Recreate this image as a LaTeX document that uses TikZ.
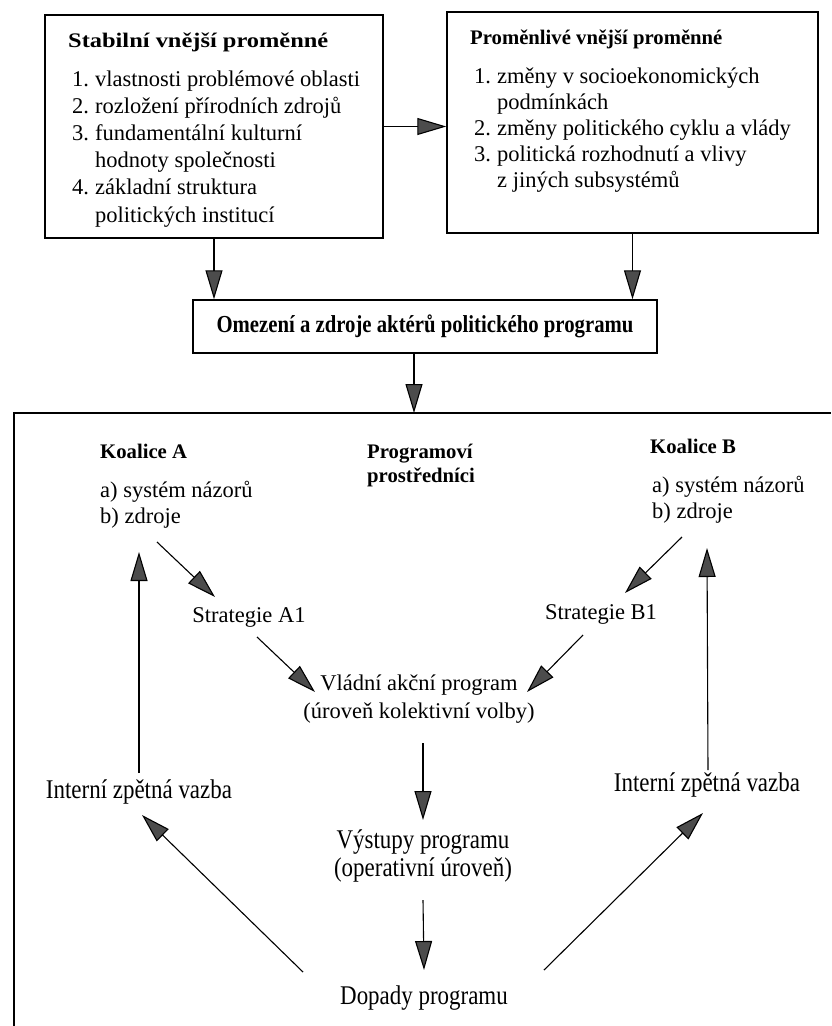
\documentclass[tikz,border=0pt]{standalone}
\usepackage{fontspec}
\setmainfont{Liberation Serif}
\newfontfamily\uzke[FakeStretch=0.85]{Liberation Serif}
\usetikzlibrary{arrows.meta,calc}
\definecolor{sedahrot}{gray}{0.3}
\newcommand{\cislo}[1]{\makebox[23pt][l]{#1}}
\newcommand{\odsad}{\hspace*{27pt}}

\begin{document}
\begin{tikzpicture}[x=1pt,y=-1pt]
\tikzstyle{every node}+=[inner sep=0pt]
\tikzstyle{ramecek}=[draw, line width=1.5pt]
\tikzstyle{text22}=[font=\fontsize{22.5}{27.2}\selectfont]
\tikzstyle{tucne}=[font=\fontsize{20.7}{24}\selectfont\bfseries]
\tikzstyle{uzky}=[font=\uzke\fontsize{27}{28}\selectfont]
\tikzstyle{sipka}=[line width=1.1pt, -{Triangle[length=29pt,width=17pt,fill=sedahrot]}]
\useasboundingbox (0,0) rectangle (831,1026);
\node[ramecek, minimum width=338pt, minimum height=223pt] (stabilni) at (214,126.5) {};
\node[ramecek, minimum width=371pt, minimum height=221pt] (promenlive) at (632.5,122.5) {};
\node[text22, anchor=base west, align=left] (stabtext) at (68,222) {\scalebox{1.18}[1]{\bfseries\fontsize{20.7}{27.2}\selectfont Stabilní vnější proměnné}\\[11.8pt]
\hspace*{4pt}\cislo{1.}vlastnosti problémové oblasti\\
\hspace*{4pt}\cislo{2.}rozložení přírodních zdrojů\\
\hspace*{4pt}\cislo{3.}fundamentální kulturní\\
\odsad hodnoty společnosti\\
\hspace*{4pt}\cislo{4.}základní struktura\\
\odsad politických institucí};
\node[text22, anchor=base west, align=left] (promtext) at (470,187) {{\bfseries\fontsize{20.7}{27.2}\selectfont Proměnlivé vnější proměnné}\\[11.8pt]
\hspace*{4pt}\cislo{1.}změny v socioekonomických\\[-1.4pt]
\odsad podmínkách\\[-1.4pt]
\hspace*{4pt}\cislo{2.}změny politického cyklu a vlády\\[-1.4pt]
\hspace*{4pt}\cislo{3.}politická rozhodnutí a vlivy\\[-1.4pt]
\odsad z jiných subsystémů};
\node[ramecek, minimum width=464pt, minimum height=53pt, font=\uzke\bfseries\fontsize{24.4}{28}\selectfont] (omezeni) at (425,326.5) {Omezení a zdroje aktérů politického programu};
\draw[ramecek] (14,1026) -- (14,413) -- (831,413);
\coordinate (ramecvrch) at (414,413);
\node[tucne, anchor=base west] (koalA) at (100,458) {Koalice A};
\node[text22, anchor=base west, align=left] (koalAtext) at (100,523) {a) systém názorů\\[-1.2pt]b) zdroje};
\node[tucne, anchor=base west, align=left] (prostrednici) at (367,482) {Programoví\\prostředníci};
\node[tucne, anchor=base west] (koalB) at (650,453) {Koalice B};
\node[text22, anchor=base west, align=left] (koalBtext) at (652,518) {a) systém názorů\\[-1.2pt]b) zdroje};
\node[text22, anchor=base] (stratA) at (249,622) {Strategie A1};
\node[text22, anchor=base] (stratB) at (601,619) {Strategie B1};
\node[text22, anchor=base, align=center] (vladni) at (419,718) {Vládní akční program\\(úroveň kolektivní volby)};
\node[uzky, anchor=base] (interniA) at (139,798) {Interní zpětná vazba};
\node[uzky, anchor=base] (interniB) at (707,791) {Interní zpětná vazba};
\node[uzky, anchor=base, align=center] (vystupy) at (423,876) {Výstupy programu\\(operativní úroveň)};
\node[uzky, anchor=base] (dopady) at (424,1004) {Dopady programu};
\draw[sipka] (stabilni.east) -- (stabilni.east -| promenlive.west);
\draw[sipka] (stabilni.south) -- (stabilni.south |- omezeni.north);
\draw[sipka] (promenlive.south) -- (promenlive.south |- omezeni.north);
\draw[sipka] (ramecvrch |- omezeni.south) -- (ramecvrch);
\draw[sipka] ($(koalAtext.base west)+(57,19)$) -- ($(stratA.base)+(-34,-25)$);
\draw[sipka] ($(stratA.base)+(8,15)$) -- ($(vladni.base)+(-104,-26)$);
\draw[sipka] ($(koalBtext.base west)+(30,19)$) -- ($(stratB.base)+(24,-26)$);
\draw[sipka] ($(stratB.base)+(-18,16)$) -- ($(vladni.base)+(108,-26)$);
\draw[sipka] ($(vladni.base)+(4,25)$) -- ($(vystupy.base)+(0,-56)$);
\draw[sipka] ($(vystupy.base)+(0,24)$) -- ($(dopady.base)+(0,-34)$);
\draw[sipka] ($(dopady.base)+(-121,-32)$) -- ($(interniA.base)+(3,17)$);
\draw[sipka] ($(dopady.base)+(120,-34)$) -- ($(interniB.base)+(-4,22)$);
\draw[sipka] ($(interniA.base)+(0,-25)$) -- ($(koalAtext.base west)+(39,29)$);
\draw[sipka] ($(interniB.base)+(1,-21)$) -- ($(koalBtext.base west)+(55,30)$);
\end{tikzpicture}
\end{document}
